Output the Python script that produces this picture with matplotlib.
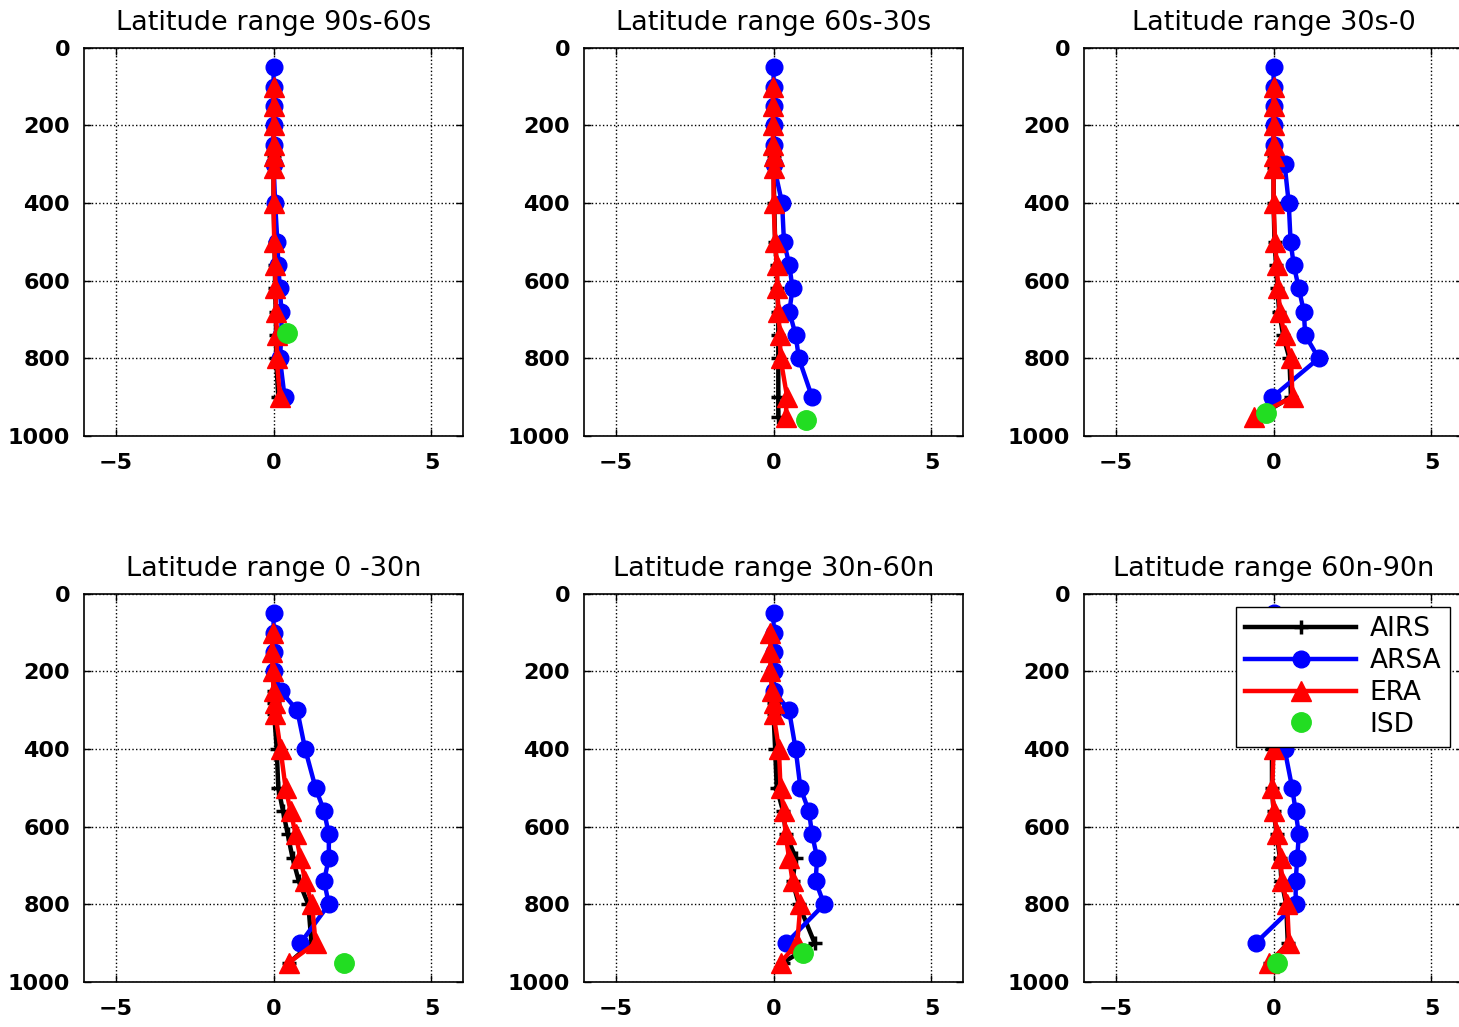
"""
Temperature bias profiles by latitude band: AIRS, ARSA, ERA and ISD.
"""

import numpy as np
import matplotlib.pyplot as plt

nan = np.nan

# ── Data ──
titles = [
    "Latitude range 90s-60s",
    "Latitude range 60s-30s",
    "Latitude range 30s-0",
    "Latitude range 0 -30n",
    "Latitude range 30n-60n",
    "Latitude range 60n-90n",
]

# pressure levels (hPa)
lev_model = [100, 150, 200, 250, 280, 310, 400, 500, 560, 620, 680, 740, 800, 900, 950]
lev_arsa = [50, 100, 150, 200, 250, 300, 400, 500, 560, 620, 680, 740, 800, 900]

airs = [
    [0, 0, 0, 0, 0, 0, 0, 0.03, 0.04, 0.05, 0.07, 0.08, 0.08, 0.15, nan],
    [0, 0, 0, 0, 0, 0, 0.02, 0.05, 0.1, 0.12, 0.15, 0.15, 0.15, 0.15, 0.15],
    [0, 0, 0, 0, 0, 0, 0, 0.03, 0.08, 0.12, 0.18, 0.3, 0.5, 0.55, -0.5],
    [0, 0, 0, 0, 0, 0.02, 0.1, 0.15, 0.3, 0.45, 0.6, 0.8, 1.1, 1.2, 0.5],
    [0, 0, 0, 0, 0, 0, 0.05, 0.1, 0.3, 0.4, 0.7, 0.6, 0.8, 1.3, 0.3],
    [0, 0, 0, 0, 0, 0, -0.05, -0.05, 0, 0.1, 0.2, 0.25, 0.4, 0.45, -0.1],
]

arsa = [
    [0, 0, 0, 0, 0, 0, 0.05, 0.12, 0.15, 0.2, 0.25, 0.25, 0.2, 0.35],
    [0, 0, 0, 0, 0, 0, 0.27, 0.33, 0.5, 0.6, 0.5, 0.7, 0.8, 1.22],
    [0, 0, 0, 0, 0, 0.35, 0.48, 0.54, 0.64, 0.8, 0.96, 1.0, 1.43, -0.04],
    [0, 0, 0, 0, 0.22, 0.75, 1.0, 1.33, 1.6, 1.75, 1.75, 1.6, 1.75, 0.85],
    [0, 0, 0, 0, 0, 0.49, 0.7, 0.85, 1.12, 1.22, 1.38, 1.33, 1.6, 0.4],
    [0, 0, 0, 0, 0.05, 0.2, 0.35, 0.59, 0.7, 0.8, 0.75, 0.7, 0.7, -0.57],
]

era = [
    [0, 0, 0, 0, 0, 0, 0, 0.02, 0.05, 0.06, 0.08, 0.1, 0.1, 0.2, nan],
    [-0.02, -0.02, -0.02, -0.02, 0, 0, 0, 0.05, 0.1, 0.12, 0.15, 0.2, 0.22, 0.43, 0.38],
    [0, 0, 0, 0, 0, 0, 0, 0.05, 0.1, 0.15, 0.2, 0.35, 0.55, 0.6, -0.62],
    [-0.03, -0.05, -0.03, 0, 0.03, 0.06, 0.22, 0.38, 0.54, 0.7, 0.85, 1.0, 1.22, 1.33, 0.48],
    [-0.1, -0.1, -0.1, -0.05, 0, 0, 0.17, 0.22, 0.33, 0.38, 0.49, 0.6, 0.85, 0.75, 0.22],
    [0, 0, 0, 0, 0, 0, 0, -0.04, 0, 0.12, 0.22, 0.27, 0.43, 0.49, -0.15],
]

isd_x = [0.44, 1.04, -0.25, 2.22, 0.92, 0.12]
isd_p = [735, 960, 942, 951, 925, 951]

# ── Layout (figure fractions) ──
col_left = [0.0576, 0.4003, 0.7430]
row_bottom = [0.5755, 0.0438]
ax_w, ax_h = 0.2598, 0.3780

plt.rcParams["font.family"] = ["DejaVu Sans"]

fig = plt.figure(figsize=(14.59, 10.27), dpi=100)
fig.patch.set_facecolor("white")

for i in range(6):
    r, c = divmod(i, 3)
    ax = fig.add_axes([col_left[c], row_bottom[r], ax_w, ax_h])

    ax.plot(airs[i], lev_model, color="black", lw=3.2, marker="+", ms=10, mew=2.5,
            label="AIRS")
    ax.plot(arsa[i], lev_arsa, color="blue", lw=3.2, marker="o", ms=12,
            label="ARSA")
    ax.plot(era[i], lev_model, color="red", lw=3.2, marker="^", ms=15,
            label="ERA")
    ax.plot([isd_x[i]], [isd_p[i]], ls="none", color="#22dd22", marker="o",
            ms=14, label="ISD")

    ax.set_xlim(-6, 6)
    ax.set_ylim(1000, 0)
    ax.set_xticks([-5, 0, 5])
    ax.set_yticks(range(0, 1001, 200))
    ax.grid(True, color="black", ls=":", lw=1)
    ax.tick_params(direction="in", length=5, width=1, top=True, right=True)
    ax.tick_params(axis="x", pad=12, labelsize=16)
    ax.tick_params(axis="y", pad=10, labelsize=16)
    for lab in ax.get_xticklabels() + ax.get_yticklabels():
        lab.set_fontweight("bold")
    for s in ax.spines.values():
        s.set_linewidth(1.2)
    ax.set_title(titles[i], fontsize=19.5, pad=13)

    if i == 5:
        leg = ax.legend(loc="upper right", bbox_to_anchor=(0.966, 0.966),
                        borderaxespad=0, fontsize=19, handlelength=4.2,
                        fancybox=False, framealpha=1, edgecolor="black",
                        borderpad=0.35, labelspacing=0.22, handletextpad=0.5)
        leg.get_frame().set_linewidth(1)

fig.savefig("out.png", dpi=100, facecolor=fig.get_facecolor())
